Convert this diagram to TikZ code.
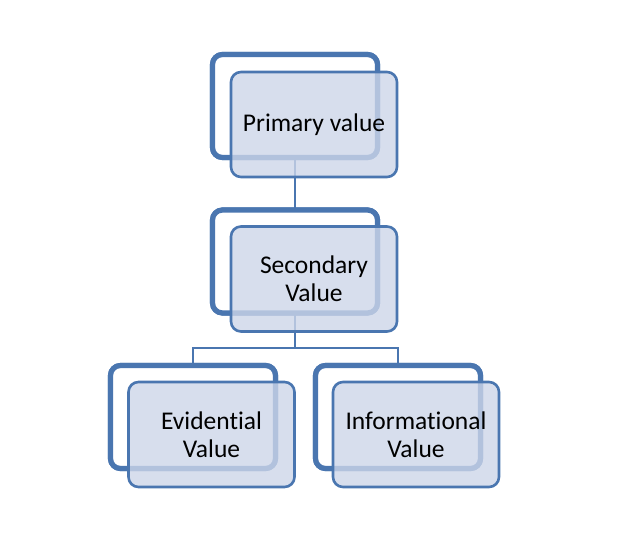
\documentclass[tikz,border=0pt]{standalone}
\usepackage{fontspec}
\setmainfont{Carlito}[Ligatures={NoCommon}]
\definecolor{bord}{RGB}{74,118,176}
\definecolor{frontfill}{RGB}{205,214,233}
\tikzset{
  backbox/.style={draw=bord, line width=5.2pt, fill=white, rounded corners=10pt,
    minimum width=165pt, minimum height=103pt, inner sep=0pt, outer sep=0pt},
  frontbox/.style={draw=bord, line width=2.6pt, fill=frontfill, fill opacity=0.8, text opacity=1,
    rounded corners=10pt, minimum width=166pt, minimum height=105pt, inner sep=0pt, outer sep=0pt,
    align=center, font=\fontsize{25.5}{28}\selectfont, text=black},
  conn/.style={draw=bord, line width=2.6pt}
}
\begin{document}
\begin{tikzpicture}[x=1pt,y=-1pt]
\useasboundingbox (0,0) rectangle (624,540);
% back boxes
\node[backbox] (pb) at (295,106) {};
\node[backbox] (sb) at (295,261.5) {};
\node[backbox] (eb) at (193,417) {};
\node[backbox] (ib) at (398,417) {};
\coordinate (j) at (295,348);
% connectors
\draw[conn] (pb.south) -- (sb.north);
\draw[conn] (sb.south) -- (j);
\draw[conn] (eb.north) |- (j) -| (ib.north);
% redraw back boxes over connectors
\node[backbox] at (295,106) {};
\node[backbox] at (295,261.5) {};
\node[backbox] at (193,417) {};
\node[backbox] at (398,417) {};
% front boxes
\node[frontbox] (pf) at (314,124.5) {Primary value};
\node[frontbox] (sf) at (314,279) {Secondary\\Value};
\node[frontbox] (ef) at (211.5,434.5) {Evidential\\Value};
\node[frontbox] (if) at (416,434.5) {Informational\\Value};
\end{tikzpicture}
\end{document}
